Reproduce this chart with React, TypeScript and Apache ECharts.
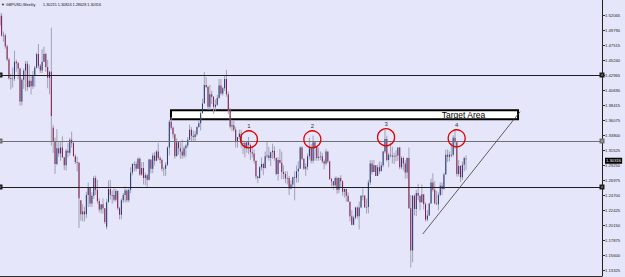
import React, { useEffect, useRef } from "react";
import * as echarts from "echarts";

// Weekly GBPUSD candles, one row per week starting 2015-12-07: [open, high, low, close]
const ohlc: number[][] = [
  [1.5060, 1.5240, 1.5020, 1.5200], [1.5200, 1.5240, 1.4880, 1.4900], [1.4900, 1.4960, 1.4805, 1.4905], [1.4905, 1.4930, 1.4700, 1.4735],
  [1.4735, 1.4760, 1.4510, 1.4535], [1.4535, 1.4560, 1.4230, 1.4250], [1.4250, 1.4320, 1.4080, 1.4240], [1.4240, 1.4415, 1.4110, 1.4245],
  [1.4245, 1.4670, 1.4210, 1.4500], [1.4500, 1.4530, 1.4350, 1.4480], [1.4480, 1.4500, 1.4235, 1.4400], [1.4400, 1.4410, 1.3835, 1.3900],
  [1.3900, 1.4250, 1.3840, 1.4230], [1.4230, 1.4400, 1.4090, 1.4370], [1.4370, 1.4515, 1.4055, 1.4470], [1.4470, 1.4515, 1.4060, 1.4120],
  [1.4120, 1.4460, 1.4110, 1.4215], [1.4215, 1.4300, 1.4005, 1.4130], [1.4130, 1.4360, 1.4090, 1.4290], [1.4290, 1.4440, 1.4120, 1.4410],
  [1.4410, 1.4640, 1.4400, 1.4620], [1.4620, 1.4770, 1.4400, 1.4440], [1.4440, 1.4470, 1.4330, 1.4370], [1.4370, 1.4690, 1.4330, 1.4500],
  [1.4500, 1.4730, 1.4500, 1.4620], [1.4620, 1.4640, 1.4350, 1.4420], [1.4420, 1.4530, 1.4100, 1.4260], [1.4260, 1.4360, 1.4010, 1.4350],
  [1.4350, 1.5018, 1.3230, 1.3680], [1.3500, 1.3540, 1.3120, 1.3300], [1.3300, 1.3350, 1.2800, 1.2950], [1.2950, 1.3480, 1.2930, 1.3190],
  [1.3190, 1.3280, 1.3060, 1.3110], [1.3110, 1.3300, 1.3000, 1.3200], [1.3200, 1.3370, 1.3050, 1.3050], [1.3050, 1.3060, 1.2860, 1.2930],
  [1.2930, 1.3180, 1.2850, 1.3150], [1.3150, 1.3270, 1.3050, 1.3120], [1.3120, 1.3350, 1.3080, 1.3320], [1.3320, 1.3440, 1.3200, 1.3270],
  [1.3270, 1.3300, 1.3070, 1.3070], [1.3070, 1.3100, 1.2950, 1.2980], [1.2980, 1.3060, 1.2840, 1.2970], [1.2970, 1.2980, 1.1980, 1.2430],
  [1.2400, 1.2400, 1.2090, 1.2190], [1.2190, 1.2340, 1.2080, 1.2230], [1.2230, 1.2300, 1.2080, 1.2190], [1.2190, 1.2530, 1.2130, 1.2480],
  [1.2480, 1.2670, 1.2300, 1.2590], [1.2590, 1.2590, 1.2300, 1.2350], [1.2350, 1.2520, 1.2300, 1.2470], [1.2470, 1.2770, 1.2420, 1.2740],
  [1.2740, 1.2775, 1.2480, 1.2560], [1.2560, 1.2710, 1.2350, 1.2390], [1.2390, 1.2430, 1.2220, 1.2260], [1.2260, 1.2340, 1.2200, 1.2340],
  [1.2340, 1.2430, 1.2200, 1.2280], [1.2280, 1.2280, 1.2040, 1.2070], [1.2000, 1.2420, 1.1960, 1.2370], [1.2370, 1.2700, 1.2370, 1.2570],
  [1.2570, 1.2710, 1.2410, 1.2480], [1.2480, 1.2550, 1.2350, 1.2480], [1.2480, 1.2580, 1.2380, 1.2410], [1.2410, 1.2570, 1.2380, 1.2540],
  [1.2540, 1.2550, 1.2250, 1.2280], [1.2280, 1.2300, 1.2110, 1.2180], [1.2180, 1.2430, 1.2110, 1.2400], [1.2400, 1.2510, 1.2360, 1.2480],
  [1.2480, 1.2610, 1.2370, 1.2550], [1.2550, 1.2570, 1.2370, 1.2400], [1.2400, 1.2580, 1.2370, 1.2560], [1.2560, 1.2900, 1.2510, 1.2820],
  [1.2820, 1.2960, 1.2780, 1.2950], [1.2950, 1.2990, 1.2840, 1.2950], [1.2950, 1.2990, 1.2840, 1.2880], [1.2880, 1.3050, 1.2880, 1.3030],
  [1.3030, 1.3050, 1.2770, 1.2790], [1.2790, 1.2980, 1.2770, 1.2890], [1.2890, 1.2980, 1.2640, 1.2740], [1.2740, 1.2820, 1.2630, 1.2780],
  [1.2780, 1.2800, 1.2590, 1.2710], [1.2710, 1.3030, 1.2700, 1.3020], [1.3020, 1.3020, 1.2810, 1.2880], [1.2880, 1.3120, 1.2810, 1.3080],
  [1.3080, 1.3130, 1.2930, 1.3000], [1.3000, 1.3160, 1.2990, 1.3140], [1.3140, 1.3270, 1.3010, 1.3040], [1.3040, 1.3070, 1.2960, 1.3010],
  [1.3010, 1.3030, 1.2840, 1.2880], [1.2880, 1.2910, 1.2770, 1.2880], [1.2880, 1.2980, 1.2770, 1.2940], [1.2940, 1.3220, 1.2920, 1.3200],
  [1.3200, 1.3620, 1.3080, 1.3590], [1.3590, 1.3660, 1.3470, 1.3500], [1.3500, 1.3520, 1.3340, 1.3400], [1.3400, 1.3410, 1.3030, 1.3070],
  [1.3070, 1.3340, 1.3070, 1.3280], [1.3280, 1.3290, 1.3090, 1.3190], [1.3190, 1.3280, 1.3030, 1.3140], [1.3140, 1.3320, 1.3030, 1.3080],
  [1.3080, 1.3220, 1.3040, 1.3190], [1.3190, 1.3250, 1.3060, 1.3230], [1.3230, 1.3360, 1.3200, 1.3320], [1.3320, 1.3550, 1.3310, 1.3470],
  [1.3470, 1.3510, 1.3300, 1.3380], [1.3380, 1.3460, 1.3300, 1.3360], [1.3360, 1.3450, 1.3300, 1.3400], [1.3400, 1.3520, 1.3380, 1.3510],
  [1.3510, 1.3610, 1.3500, 1.3570], [1.3570, 1.3740, 1.3460, 1.3720], [1.3720, 1.3940, 1.3720, 1.3870], [1.3870, 1.4345, 1.3870, 1.4150],
  [1.4150, 1.4270, 1.4100, 1.4120], [1.4120, 1.4140, 1.3770, 1.3820], [1.3820, 1.4150, 1.3770, 1.4010], [1.4010, 1.4060, 1.3860, 1.3970],
  [1.3970, 1.3980, 1.3710, 1.3820], [1.3820, 1.3930, 1.3760, 1.3850], [1.3850, 1.4000, 1.3830, 1.3950], [1.3950, 1.4240, 1.3940, 1.4140],
  [1.4140, 1.4240, 1.3990, 1.4020], [1.4020, 1.4120, 1.3990, 1.4100], [1.4100, 1.4300, 1.4060, 1.4240], [1.4240, 1.4377, 1.3970, 1.4010],
  [1.4010, 1.4050, 1.3710, 1.3770], [1.3770, 1.3800, 1.3490, 1.3520], [1.3520, 1.3620, 1.3450, 1.3540], [1.3540, 1.3610, 1.3440, 1.3470],
  [1.3470, 1.3510, 1.3200, 1.3300], [1.3300, 1.3360, 1.3200, 1.3360], [1.3360, 1.3470, 1.3330, 1.3410], [1.3410, 1.3470, 1.3200, 1.3270],
  [1.3270, 1.3310, 1.3100, 1.3270], [1.3270, 1.3290, 1.3050, 1.3190], [1.3190, 1.3300, 1.3120, 1.3280], [1.3280, 1.3360, 1.3100, 1.3240],
  [1.3240, 1.3260, 1.3010, 1.3130], [1.3130, 1.3210, 1.3050, 1.3110], [1.3110, 1.3170, 1.2960, 1.3000], [1.3000, 1.3000, 1.2720, 1.2760],
  [1.2760, 1.2770, 1.2660, 1.2740], [1.2740, 1.2920, 1.2730, 1.2900], [1.2900, 1.3050, 1.2850, 1.2950], [1.2950, 1.2970, 1.2780, 1.2890],
  [1.2890, 1.3140, 1.2880, 1.3070], [1.3070, 1.3300, 1.3040, 1.3080], [1.3080, 1.3210, 1.3000, 1.3040], [1.3040, 1.3140, 1.2920, 1.3130],
  [1.3130, 1.3260, 1.3030, 1.3150], [1.3150, 1.3220, 1.3000, 1.3040], [1.3040, 1.3050, 1.2780, 1.2800], [1.2800, 1.3050, 1.2700, 1.3010],
  [1.3010, 1.3180, 1.2960, 1.2970], [1.2970, 1.3140, 1.2720, 1.2830], [1.2830, 1.2930, 1.2720, 1.2800], [1.2800, 1.2840, 1.2660, 1.2730],
  [1.2730, 1.2840, 1.2640, 1.2740], [1.2740, 1.2770, 1.2480, 1.2580], [1.2580, 1.2700, 1.2570, 1.2640], [1.2640, 1.2760, 1.2590, 1.2750],
  [1.2750, 1.2840, 1.2400, 1.2740], [1.2740, 1.2930, 1.2670, 1.2840], [1.2840, 1.2990, 1.2670, 1.2880], [1.2880, 1.3220, 1.2880, 1.3200],
  [1.3200, 1.3220, 1.3010, 1.3030], [1.3030, 1.3040, 1.2860, 1.2880], [1.2880, 1.2960, 1.2770, 1.2910], [1.2910, 1.3110, 1.2860, 1.3070],
  [1.3070, 1.3350, 1.3020, 1.3190], [1.3190, 1.3250, 1.2960, 1.3000], [1.3000, 1.3380, 1.2960, 1.3280], [1.3280, 1.3300, 1.3000, 1.3210],
  [1.3210, 1.3210, 1.3000, 1.3040], [1.3040, 1.3200, 1.3000, 1.3060], [1.3060, 1.3140, 1.3010, 1.3070], [1.3070, 1.3120, 1.2960, 1.2990],
  [1.2990, 1.3020, 1.2870, 1.2960], [1.2960, 1.3180, 1.2930, 1.3140], [1.3140, 1.3140, 1.2960, 1.2990], [1.2990, 1.3000, 1.2710, 1.2720],
  [1.2720, 1.2740, 1.2610, 1.2690], [1.2690, 1.2690, 1.2560, 1.2630], [1.2630, 1.2760, 1.2590, 1.2740], [1.2740, 1.2760, 1.2500, 1.2560],
  [1.2560, 1.2750, 1.2510, 1.2740], [1.2740, 1.2780, 1.2600, 1.2690], [1.2690, 1.2700, 1.2470, 1.2530], [1.2530, 1.2580, 1.2440, 1.2570],
  [1.2570, 1.2580, 1.2380, 1.2470], [1.2470, 1.2520, 1.2380, 1.2380], [1.2380, 1.2380, 1.2080, 1.2160], [1.2160, 1.2250, 1.2020, 1.2030],
  [1.2030, 1.2170, 1.2020, 1.2140], [1.2140, 1.2300, 1.2110, 1.2290], [1.2290, 1.2310, 1.2120, 1.2160], [1.2160, 1.2380, 1.1958, 1.2290],
  [1.2290, 1.2480, 1.2280, 1.2470], [1.2470, 1.2580, 1.2400, 1.2470], [1.2470, 1.2480, 1.2290, 1.2290], [1.2290, 1.2430, 1.2200, 1.2300],
  [1.2300, 1.2710, 1.2200, 1.2670], [1.2670, 1.3010, 1.2630, 1.2960], [1.2960, 1.3010, 1.2790, 1.2830], [1.2830, 1.3010, 1.2830, 1.2930],
  [1.2930, 1.2930, 1.2770, 1.2770], [1.2770, 1.2940, 1.2770, 1.2900], [1.2900, 1.2990, 1.2800, 1.2840], [1.2840, 1.2980, 1.2840, 1.2930],
  [1.2930, 1.3150, 1.2900, 1.3140], [1.3140, 1.3475, 1.3110, 1.3330], [1.3330, 1.3380, 1.2990, 1.3010], [1.3010, 1.3120, 1.2900, 1.3090],
  [1.3090, 1.3280, 1.3050, 1.3080], [1.3080, 1.3210, 1.2960, 1.3060], [1.3060, 1.3120, 1.2950, 1.3070], [1.3070, 1.3160, 1.2990, 1.3080],
  [1.3080, 1.3200, 1.3000, 1.3200], [1.3200, 1.3210, 1.2870, 1.2900], [1.2900, 1.3070, 1.2870, 1.3040], [1.3040, 1.3060, 1.2850, 1.2960],
  [1.2960, 1.3010, 1.2730, 1.2820], [1.2820, 1.3050, 1.2730, 1.3040], [1.3040, 1.3200, 1.2270, 1.2280], [1.2280, 1.2480, 1.1380, 1.1640],
  [1.1640, 1.2480, 1.1460, 1.2470], [1.2470, 1.2490, 1.2170, 1.2270], [1.2270, 1.2560, 1.2160, 1.2510], [1.2510, 1.2650, 1.2400, 1.2470],
  [1.2470, 1.2470, 1.2250, 1.2370], [1.2370, 1.2640, 1.2360, 1.2490], [1.2490, 1.2490, 1.2260, 1.2340], [1.2340, 1.2370, 1.2080, 1.2110],
  [1.2110, 1.2250, 1.2080, 1.2170], [1.2170, 1.2360, 1.2160, 1.2350], [1.2350, 1.2730, 1.2350, 1.2670], [1.2670, 1.2810, 1.2530, 1.2560],
  [1.2560, 1.2690, 1.2340, 1.2350], [1.2350, 1.2540, 1.2330, 1.2340], [1.2340, 1.2520, 1.2250, 1.2480], [1.2480, 1.2670, 1.2460, 1.2620],
  [1.2620, 1.2670, 1.2480, 1.2570], [1.2570, 1.2820, 1.2560, 1.2790], [1.2790, 1.3170, 1.2790, 1.3090], [1.3090, 1.3170, 1.2980, 1.3060],
  [1.3060, 1.3140, 1.2990, 1.3090], [1.3090, 1.3270, 1.3050, 1.3090], [1.3090, 1.3390, 1.3060, 1.3350], [1.3350, 1.3482, 1.3180, 1.3280],
  [1.3280, 1.3290, 1.2760, 1.2800], [1.2800, 1.3010, 1.2760, 1.2920], [1.2920, 1.2930, 1.2676, 1.2750], [1.2750, 1.2990, 1.2710, 1.2940],
  [1.2940, 1.3060, 1.2840, 1.3040], [1.30215, 1.30824, 1.28628, 1.30316],
];

// Price scale labels as printed on the right axis
const priceLabels = [
  "1.52065", "1.49790", "1.47515", "1.45240", "1.42965", "1.40690", "1.38415", "1.36075", "1.33800",
  "1.31525", "1.29250", "1.26975", "1.24700", "1.22425", "1.20150", "1.17875", "1.15600", "1.13325",
];
// Time-scale tick positions (week index)
const weekTicks = [0, 16, 32, 48, 64, 80, 96, 112, 128, 144, 160, 176, 192, 208, 224, 240, 256, 272, 288, 304, 320];

const symbolName = "GBPUSD,Weekly";
const lastBar = ["1.30215", "1.30824", "1.28628", "1.30316"];
const lastPrice = 1.30316;

// Drawn objects
const hLines = [1.4316, 1.3315, 1.2647];
const hLineColors = ["#1e1e1e", "#707070", "#1e1e1e"];
const targetBox = { x1: 92.9, y1: 1.3765, x2: 281.2, y2: 1.3629 };
const targetLabel = { x: 251.6, y: 1.3697, text: "Target Area" };
const trendLine = [[229.5, 1.1889], [282.3, 1.3744]];
const peaks = [
  { name: "1", x: 135.2, y: 1.3325 },
  { name: "2", x: 169.6, y: 1.3325 },
  { name: "3", x: 209.6, y: 1.3356 },
  { name: "4", x: 247.9, y: 1.3340 },
];

const BG = "#E6E6FA";
const WICK = "#9a9ab0";
const BULL = "#27397a";
const BEAR = "#8a1d48";
const FONT = "Liberation Sans, Arial, sans-serif";

export default function App() {
  const ref = useRef<HTMLDivElement>(null);
  useEffect(() => {
    if (!ref.current) return;
    const chart = echarts.init(ref.current, undefined, { renderer: "svg" });
    const data = ohlc.map((r, i) => [i, r[0], r[1], r[2], r[3]]);
    chart.setOption({
      animation: false,
      backgroundColor: BG,
      grid: { left: 0, top: 0, width: 602, height: 276 },
      xAxis: {
        type: "value",
        min: 0.14,
        max: 326.75,
        axisLine: { show: true, lineStyle: { color: "#303030", width: 1 } },
        axisTick: { show: true, length: 3, customValues: weekTicks, lineStyle: { color: "#303030" } },
        axisLabel: { show: false },
        splitLine: { show: false },
      },
      yAxis: {
        type: "value",
        position: "right",
        min: 1.1252,
        max: 1.5438,
        axisLine: { show: true, lineStyle: { color: "#202020", width: 1 } },
        axisTick: { show: true, length: 3, inside: false, customValues: priceLabels.map(Number), lineStyle: { color: "#303030" } },
        axisLabel: {
          show: true,
          customValues: priceLabels.map(Number),
          formatter: (v: number) => v.toFixed(5),
          fontSize: 4.2,
          fontFamily: FONT,
          color: "#222",
          margin: 3,
        },
        splitLine: { show: false },
      },
      graphic: [
        { type: "text", left: 1, top: 2.5, style: { text: "▼ " + symbolName, fontSize: 3.8, fontFamily: FONT, fill: "#111" } },
        { type: "text", left: 43, top: 2.5, style: { text: lastBar.join(" "), fontSize: 3.8, fontFamily: FONT, fill: "#111" } },
      ],
      series: [
        {
          type: "line",
          data: [],
          z: 1,
          markArea: {
            silent: true,
            itemStyle: { color: "#ffffff", borderColor: "#000", borderWidth: 2 },
            data: [[{ coord: [targetBox.x1, targetBox.y1] }, { coord: [targetBox.x2, targetBox.y2] }]],
          },
        },
        {
          type: "custom",
          z: 2,
          data,
          encode: { x: 0, y: [1, 2, 3, 4] },
          renderItem: (_p: any, api: any) => {
            const i = api.value(0);
            const o = api.value(1);
            const h = api.value(2);
            const l = api.value(3);
            const c = api.value(4);
            const pH = api.coord([i, h]);
            const pL = api.coord([i, l]);
            const pO = api.coord([i, o]);
            const pC = api.coord([i, c]);
            const bw = api.size([1, 0])[0] * 0.55;
            const y0 = Math.min(pO[1], pC[1]);
            const hh = Math.max(Math.abs(pO[1] - pC[1]), 0.7);
            return {
              type: "group",
              children: [
                { type: "line", shape: { x1: pH[0], y1: pH[1], x2: pL[0], y2: pL[1] }, style: { stroke: WICK, lineWidth: 0.9 } },
                { type: "rect", shape: { x: pO[0] - bw / 2, y: y0, width: bw, height: hh }, style: { fill: c >= o ? BULL : BEAR } },
              ],
            };
          },
          markPoint: {
            silent: true,
            data: [
              ...peaks.map((p) => ({
                name: p.name,
                coord: [p.x, p.y],
                symbol: "circle",
                symbolSize: 17,
                itemStyle: { color: "rgba(0,0,0,0)", borderColor: "#e00000", borderWidth: 1.3 },
                label: { show: true, position: "top", distance: 1, formatter: p.name, fontSize: 6, fontFamily: FONT, color: "#333" },
              })),
              {
                name: "target",
                coord: [targetLabel.x, targetLabel.y],
                symbol: "circle",
                symbolSize: 1,
                itemStyle: { color: "rgba(0,0,0,0)" },
                label: { show: true, position: "inside", formatter: targetLabel.text, fontSize: 8.5, fontFamily: FONT, color: "#000" },
              },
            ],
          },
        },
        {
          type: "line",
          data: [],
          z: 3,
          markLine: {
            silent: true,
            symbol: ["emptyRect", "emptyRect"],
            symbolSize: 3,
            label: { show: false },
            data: hLines.map((v, k) => ({ yAxis: v, lineStyle: { color: hLineColors[k], width: 1, type: "solid" } })),
          },
        },
        {
          type: "line",
          data: [],
          z: 3,
          markLine: {
            silent: true,
            symbol: ["none", "none"],
            label: { show: false },
            lineStyle: { color: "#3a3a3a", width: 0.8, type: "solid" },
            data: [[{ coord: trendLine[0] }, { coord: trendLine[1] }]],
          },
        },
        {
          type: "line",
          data: [],
          z: 4,
          markLine: {
            silent: true,
            symbol: ["none", "none"],
            lineStyle: { color: "rgba(0,0,0,0)", width: 0 },
            label: {
              show: true,
              position: "end",
              distance: 3,
              formatter: lastBar[3],
              backgroundColor: "#000",
              color: "#fff",
              fontSize: 4.2,
              fontFamily: FONT,
              padding: [1, 1, 1, 1],
            },
            data: [{ yAxis: lastPrice }],
          },
        },
      ],
    });
    return () => chart.dispose();
  }, []);
  return <div ref={ref} style={{ position: "absolute", left: 0, top: 0, width: 625, height: 277 }} />;
}
